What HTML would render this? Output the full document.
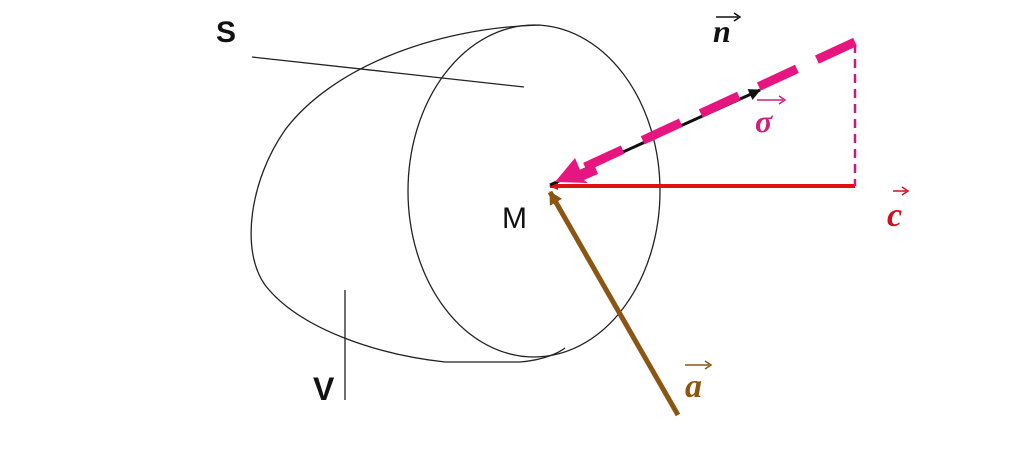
<!DOCTYPE html>
<html><head><meta charset="utf-8"><style>
html,body{margin:0;padding:0;background:#fff;}
svg{display:block;}
text{font-family:"Liberation Sans",sans-serif;}
.ser{font-family:"Liberation Serif",serif;font-style:italic;font-weight:bold;}
</style></head><body>
<svg width="1024" height="460" viewBox="0 0 1024 460" xmlns="http://www.w3.org/2000/svg">
<defs>
<marker id="ar" markerWidth="10" markerHeight="10" refX="8" refY="5" orient="auto" markerUnits="userSpaceOnUse"><path d="M0,1 L9,5 L0,9 z" fill="#e01010"/></marker>
<marker id="ab" markerWidth="14" markerHeight="14" refX="11" refY="6" orient="auto" markerUnits="userSpaceOnUse"><path d="M0,0 L12,6 L0,12 z" fill="#111"/></marker>
<marker id="abr" markerWidth="16" markerHeight="16" refX="12" refY="7" orient="auto" markerUnits="userSpaceOnUse"><path d="M0,0 L13,7 L0,14 z" fill="#8B5513"/></marker>
</defs>
<!-- outer blob -->
<path d="M540,25 C430,28 330,70 285,130 C250,180 240,250 265,285 C300,330 380,355 445,362 L520,362 C545,360 560,352 565,348" fill="none" stroke="#222" stroke-width="1.3"/>
<!-- inner ellipse -->
<ellipse cx="534" cy="191" rx="126" ry="166" fill="none" stroke="#222" stroke-width="1.3"/>
<!-- S line -->
<line x1="252" y1="57" x2="524" y2="87" stroke="#222" stroke-width="1.3"/>
<!-- V line -->
<line x1="345" y1="290" x2="345" y2="400" stroke="#222" stroke-width="1.3"/>
<text x="216" y="42" font-size="30" font-weight="bold" fill="#111">S</text>
<text x="313" y="400" font-size="32" font-weight="bold" fill="#111">V</text>
<text x="502" y="228" font-size="30" fill="#111">M</text>
<!-- red c -->
<line x1="855" y1="186" x2="550" y2="186" stroke="#e01010" stroke-width="4" marker-end="url(#ar)"/>
<!-- pink dashed vertical -->
<line x1="855" y1="44" x2="855" y2="186" stroke="#c0207a" stroke-width="2.5" stroke-dasharray="9,6"/>
<!-- black arrow n -->
<line x1="550" y1="185" x2="760" y2="90" stroke="#111" stroke-width="3" marker-end="url(#ab)"/>
<!-- pink dashed sigma -->
<line x1="855" y1="42" x2="585" y2="167" stroke="#e6157f" stroke-width="9" stroke-dasharray="42,22"/>
<path d="M555,182 L575,158 L580,170 L594,164 L598,174 L584,180 L588,183 z" fill="#e6157f"/>
<!-- brown a -->
<line x1="678" y1="415" x2="550" y2="192" stroke="#8B5513" stroke-width="5" marker-end="url(#abr)"/>
<!-- labels -->
<text x="713" y="42" class="ser" font-size="32" fill="#111">n</text>
<path d="M716,17 L738,17" stroke="#111" stroke-width="1.5"/><path d="M734,13 L740,17 L734,21" fill="none" stroke="#111" stroke-width="1.5"/>
<text x="755" y="132" class="ser" font-size="32" fill="#d0207a">σ</text>
<path d="M757,100 L783,100" stroke="#d0207a" stroke-width="1.5"/><path d="M779,96 L785,100 L779,104" fill="none" stroke="#d0207a" stroke-width="1.5"/>
<text x="887" y="226" class="ser" font-size="34" fill="#d01020">c</text>
<path d="M893,191 L906,191" stroke="#d01020" stroke-width="1.5"/><path d="M902,187 L908,191 L902,195" fill="none" stroke="#d01020" stroke-width="1.5"/>
<text x="685" y="397" class="ser" font-size="34" fill="#8B5513">a</text>
<path d="M685,365 L709,365" stroke="#8B5513" stroke-width="1.5"/><path d="M705,361 L711,365 L705,369" fill="none" stroke="#8B5513" stroke-width="1.5"/>
</svg>
</body></html>
